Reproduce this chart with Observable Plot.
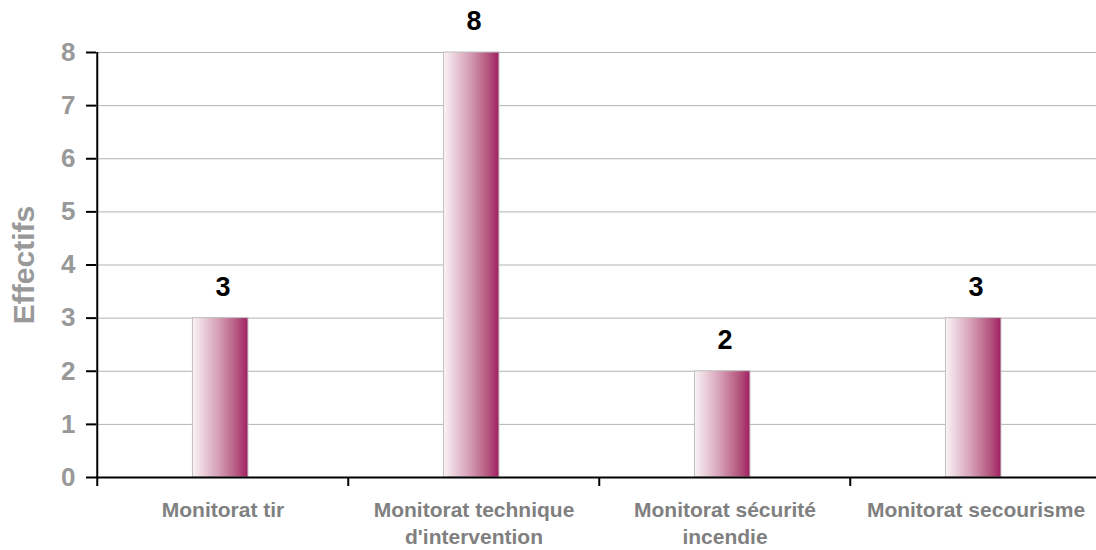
<!DOCTYPE html>
<html>
<head>
<meta charset="utf-8">
<script src="https://cdn.jsdelivr.net/npm/d3@7"></script>
<script src="https://cdn.jsdelivr.net/npm/@observablehq/plot@0.6"></script>
<style>
  html, body { margin: 0; padding: 0; background: #fff; }
  svg { font-family: "Liberation Sans", Arial, sans-serif; }
</style>
</head>
<body>
<div id="chart"></div>
<script>
const categories = ["Monitorat tir", "Monitorat technique\nd'intervention", "Monitorat sécurité\nincendie", "Monitorat secourisme"];
const values = [3, 8, 2, 3];
const yTicks = [0, 1, 2, 3, 4, 5, 6, 7, 8];
const yLabel = "Effectifs";

const data = categories.map((c, i) => ({category: c, value: values[i]}));

const W = 1096, H = 550;
const xRange = [96, 1102];
const bw = (xRange[1] - xRange[0]) / categories.length;
const barW = 56;
const inset = (bw - barW) / 2;
const shift = 2.3;

const defs = () => {
  const ns = "http://www.w3.org/2000/svg";
  const d = document.createElementNS(ns, "defs");
  d.innerHTML = `<linearGradient id="barGrad" x1="0" x2="1" y1="0" y2="0">
    <stop offset="0%" stop-color="#f9f3f6"/>
    <stop offset="45%" stop-color="#d7a2b8"/>
    <stop offset="80%" stop-color="#b5577f"/>
    <stop offset="100%" stop-color="#a01f62"/>
  </linearGradient>`;
  return d;
};

const plot = Plot.plot({
  width: W,
  height: H,
  marginLeft: 96,
  marginRight: 0,
  marginTop: 52,
  marginBottom: 73,
  x: {domain: categories, range: xRange, padding: 0},
  y: {domain: [0, 8], ticks: yTicks},
  style: {fontFamily: "'Liberation Sans', Arial, sans-serif", background: "#fff"},
  marks: [
    defs,
    Plot.ruleY(yTicks.filter(t => t > 0), {stroke: "#b3b3b3", strokeWidth: 1}),
    Plot.barY(data, {x: "category", y: "value", fill: "url(#barGrad)", stroke: "#c0c0c0", strokeWidth: 1, insetLeft: inset - shift, insetRight: inset + shift}),
    Plot.ruleY([0], {stroke: "#000", strokeWidth: 2}),
    Plot.ruleX([categories[0]], {x: d => d, dx: -bw / 2, y1: 0, y2: 8, stroke: "#000", strokeWidth: 2}),
    Plot.ruleX(categories, {x: d => d, dx: -bw / 2, y1: 0, y2: 0, insetBottom: -9, stroke: "#000", strokeWidth: 2}),
    Plot.axisY({ticks: yTicks, tickSize: 10, tickPadding: 11, stroke: "#000", strokeWidth: 2, fill: "#999", fontSize: 26, fontWeight: "bold", label: null}),
    Plot.axisX({tickSize: 0, tickPadding: 20, fill: "#808080", fontSize: 21, fontWeight: "bold", lineHeight: 1.29, label: null}),
    Plot.text(data, {x: "category", y: "value", text: d => String(d.value), dy: -31, fontSize: 27, fontWeight: "bold", fill: "#000"}),
    Plot.text([yLabel], {frameAnchor: "left", textAnchor: "middle", dx: -72, rotate: -90, fontSize: 30, fontWeight: "bold", fill: "#999"})
  ]
});

document.getElementById("chart").appendChild(plot);
</script>
</body>
</html>
